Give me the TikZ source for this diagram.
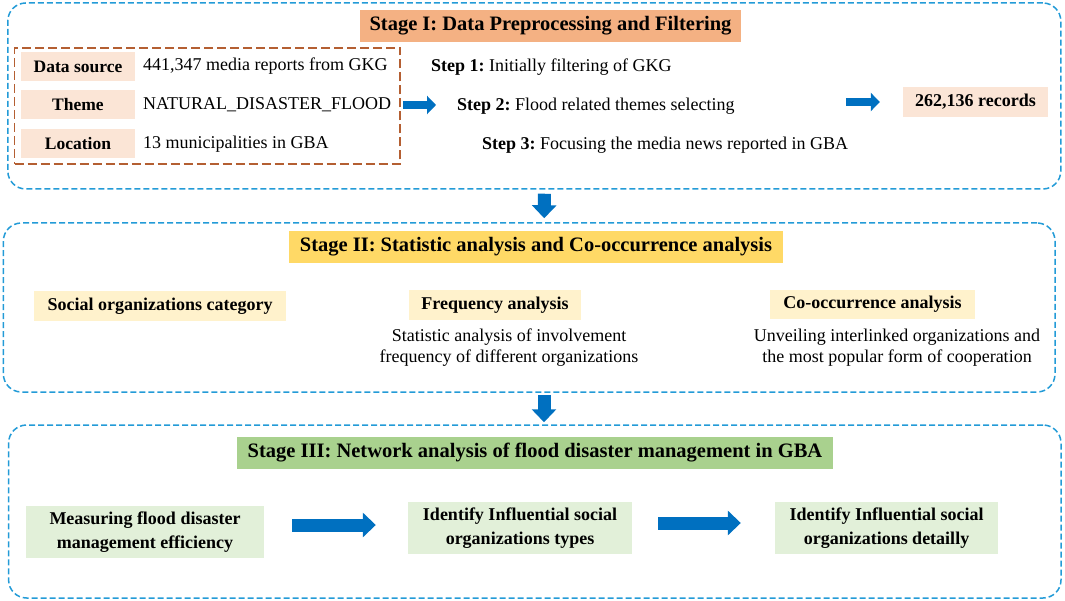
\documentclass[tikz,border=0pt]{standalone}
\usepackage{fontspec}
\setmainfont{Liberation Serif}
\usetikzlibrary{arrows.meta,calc}
\definecolor{dashblue}{RGB}{35,155,215}
\definecolor{brownd}{RGB}{180,95,50}
\definecolor{orangeT}{RGB}{244,177,131}
\definecolor{peach}{RGB}{251,229,214}
\definecolor{yellowT}{RGB}{255,217,102}
\definecolor{lyellow}{RGB}{255,242,204}
\definecolor{greenT}{RGB}{169,209,142}
\definecolor{lgreen}{RGB}{226,240,217}
\definecolor{arrowblue}{RGB}{0,112,192}
\frenchspacing
\begin{document}
\begin{tikzpicture}[x=1pt,y=-1pt,
  stagebox/.style={draw=dashblue, line width=1.5pt, dash pattern=on 6pt off 3pt, rounded corners=18pt, inner sep=0pt},
  box/.style={inner sep=0pt, align=center, font=\fontsize{18}{23.5}\selectfont\bfseries},
  labelbox/.style={inner sep=0pt, align=center, fill=peach, minimum width=114pt, minimum height=29pt, font=\fontsize{17.5}{21}\selectfont\bfseries},
  titlebox/.style={inner sep=0pt, minimum height=32pt, font=\fontsize{20.5}{24}\selectfont\bfseries},
  plain/.style={inner sep=0pt, align=center, font=\fontsize{18}{21.5}\selectfont},
  smallarrow/.style={draw=arrowblue, line width=8pt, -{Triangle[length=9pt,width=18pt]}},
  bigarrow/.style={draw=arrowblue, line width=13pt, -{Triangle[length=13pt,width=24pt]}},
]
\useasboundingbox (0,0) rectangle (1065,601);

% ---------- Stage I ----------
\node[stagebox, minimum width=1053pt, minimum height=186pt] (S1) at (534.3,96) {};
\node[titlebox, fill=orangeT, minimum width=381pt] (T1) at (550.5,26) {Stage I: Data Preprocessing and Filtering};
\node[draw=brownd, line width=1.5pt, dash pattern=on 9pt off 4pt, inner sep=0pt, minimum width=385.5pt, minimum height=116pt] (src) at (207.25,106) {};
\node[labelbox] (L1) at (78,66.5) {Data source};
\node[labelbox] (L2) at (78,104.5) {Theme};
\node[labelbox] (L3) at (78,144) {Location};
\node[plain, anchor=west] (V1) at (143,66.5) {441,347 media reports from GKG};
\node[plain, anchor=west] (V2) at (143,104.5) {NATURAL\_DISASTER\_FLOOD};
\node[plain, anchor=west] (V3) at (143,144) {13 municipalities in GBA};
\node[plain, anchor=west] (st1) at (431,67) {\textbf{Step 1:} Initially filtering of GKG};
\node[plain, anchor=west] (st2) at (457,106) {\textbf{Step 2:} Flood related themes selecting};
\node[plain, anchor=west] (st3) at (482,145) {\textbf{Step 3:} Focusing the media news reported in GBA};
\node[box, fill=peach, minimum width=145pt, minimum height=30pt] (rec) at (975.5,102) {262,136 records};
\draw[smallarrow] ($(src.east)+(2,-1)$) -- ($(st2.west)+(-21,-1)$);
\draw[smallarrow] ($(rec.west)+(-57,0)$) -- ($(rec.west)+(-23,0)$);

% ---------- Stage II ----------
\node[stagebox, minimum width=1051.6pt, minimum height=169pt] (S2) at (529.2,307.5) {};
\node[titlebox, fill=yellowT, minimum width=494pt] (T2) at (536,247) {Stage II: Statistic analysis and Co-occurrence analysis};
\node[box, fill=lyellow, minimum width=252pt, minimum height=30pt] (soc) at (160,306) {Social organizations category};
\node[box, fill=lyellow, minimum width=172pt, minimum height=30pt] (freq) at (495,305) {Frequency analysis};
\node[plain] (freqt) at (509,347.5) {Statistic analysis of involvement\\frequency of different organizations};
\node[box, fill=lyellow, minimum width=205pt, minimum height=29pt] (cooc) at (872.5,304.5) {Co-occurrence analysis};
\node[plain] (cooct) at (897,347.5) {Unveiling interlinked organizations and\\the most popular form of cooperation};

% ---------- Stage III ----------
\node[stagebox, minimum width=1052.4pt, minimum height=173pt] (S3) at (534.8,511.5) {};
\node[titlebox, fill=greenT, minimum width=596pt] (T3) at (535,453) {Stage III: Network analysis of flood disaster management in GBA};
\node[box, fill=lgreen, minimum width=238pt, minimum height=52pt] (m1) at (145,532) {Measuring flood disaster\\management efficiency};
\node[box, fill=lgreen, minimum width=224pt, minimum height=52pt] (m2) at (520,528) {Identify Influential social\\organizations types};
\node[box, fill=lgreen, minimum width=223pt, minimum height=52pt] (m3) at (886.5,528) {Identify Influential social\\organizations detailly};
\draw[bigarrow] ($(m1.east)+(28,-7)$) -- ($(m2.west)+(-32,-3)$);
\draw[bigarrow] ($(m2.east)+(26,-5)$) -- ($(m3.west)+(-34,-5)$);

% ---------- vertical arrows ----------
\draw[bigarrow] ($(S1.south)+(10,4)$) -- ($(S2.north)+(15,-4)$);
\draw[bigarrow] ($(S2.south)+(14.8,2)$) -- ($(S3.north)+(9.2,-2)$);
\end{tikzpicture}
\end{document}
